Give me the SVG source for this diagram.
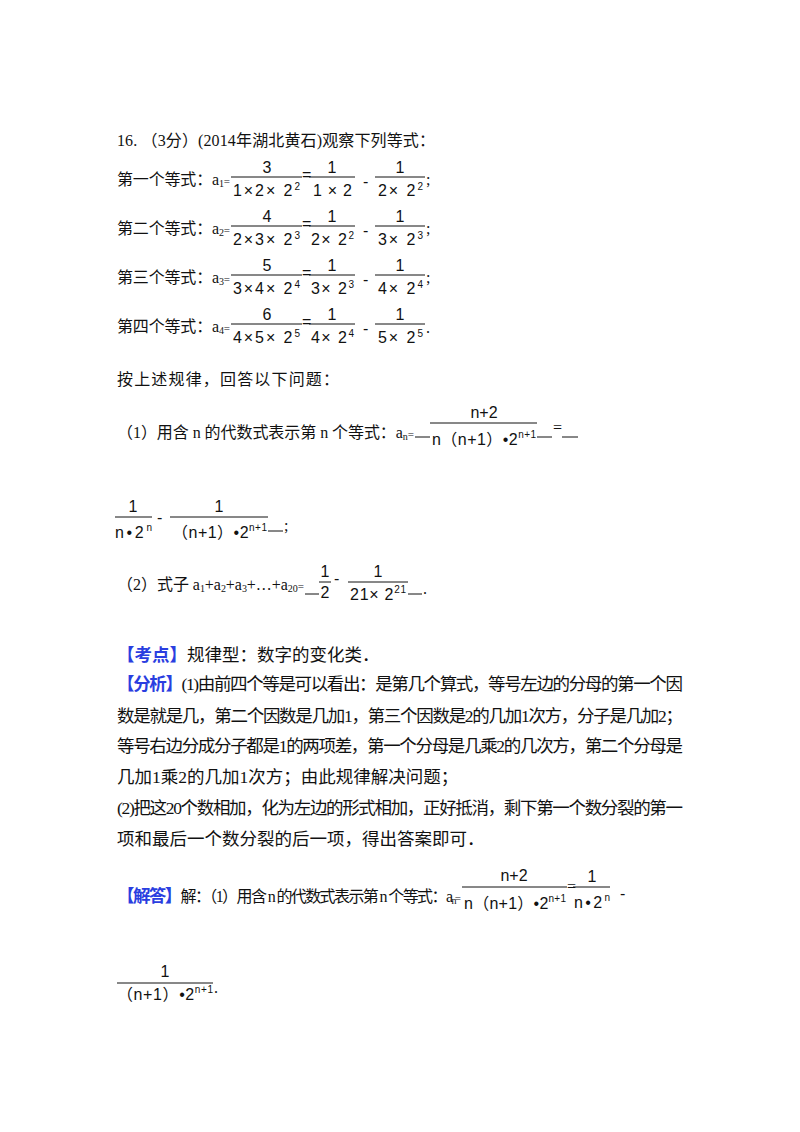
<svg xmlns="http://www.w3.org/2000/svg" width="800" height="1132" viewBox="0 0 800 1132">
<style>
text{font-family:"Liberation Serif","Noto Sans CJK SC",serif;font-size:16px;fill:#111}
.m{font-family:"Liberation Sans","Noto Sans CJK SC",sans-serif;font-size:16px}
.c{text-anchor:middle}
.b{fill:#2a3ee0;font-weight:bold}
.p{font-size:17.5px}
line{stroke:#111;stroke-width:1}
.s{font-size:10px}
</style>
<rect width="800" height="1132" fill="#fff"/>
<text x="117" y="146" textLength="318">16.  （3分）(2014年湖北黄石)观察下列等式：</text>
<g id="row1">
<text x="117" y="185" textLength="113">第一个等式：a<tspan class="s" dy="2">1</tspan><tspan dy="-2" font-size="11">=</tspan></text>
<line x1="231" y1="177" x2="302" y2="177"/><text class="m c" x="267" y="173">3</text><text class="m" x="233" y="196" textLength="67">1×2× 2<tspan class="s" dy="-6">2</tspan></text>
<text class="m" x="302" y="180" font-size="11">=</text>
<line x1="309" y1="177" x2="355" y2="177"/><text class="m c" x="332" y="173">1</text><text class="m" x="313" y="196" textLength="39">1×2</text>
<text class="m" x="363" y="187">-</text>
<line x1="375" y1="177" x2="425" y2="177"/><text class="m c" x="400" y="173">1</text><text class="m" x="378" y="196" textLength="45">2× 2<tspan class="s" dy="-6">2</tspan></text>
<text x="426" y="185" font-size="11">;</text>
</g>
<g id="row2">
<text x="117" y="234" textLength="113">第二个等式：a<tspan class="s" dy="2">2</tspan><tspan dy="-2" font-size="11">=</tspan></text>
<line x1="231" y1="226" x2="302" y2="226"/><text class="m c" x="267" y="222">4</text><text class="m" x="233" y="245" textLength="67">2×3× 2<tspan class="s" dy="-6">3</tspan></text>
<text class="m" x="302" y="229" font-size="11">=</text>
<line x1="309" y1="226" x2="355" y2="226"/><text class="m c" x="332" y="222">1</text><text class="m" x="311" y="245" textLength="43">2× 2<tspan class="s" dy="-6">2</tspan></text>
<text class="m" x="363" y="236">-</text>
<line x1="375" y1="226" x2="425" y2="226"/><text class="m c" x="400" y="222">1</text><text class="m" x="378" y="245" textLength="45">3× 2<tspan class="s" dy="-6">3</tspan></text>
<text x="426" y="234" font-size="11">;</text>
</g>
<g id="row3">
<text x="117" y="283" textLength="113">第三个等式：a<tspan class="s" dy="2">3</tspan><tspan dy="-2" font-size="11">=</tspan></text>
<line x1="231" y1="275" x2="302" y2="275"/><text class="m c" x="267" y="271">5</text><text class="m" x="233" y="294" textLength="67">3×4× 2<tspan class="s" dy="-6">4</tspan></text>
<text class="m" x="302" y="278" font-size="11">=</text>
<line x1="309" y1="275" x2="355" y2="275"/><text class="m c" x="332" y="271">1</text><text class="m" x="311" y="294" textLength="43">3× 2<tspan class="s" dy="-6">3</tspan></text>
<text class="m" x="363" y="285">-</text>
<line x1="375" y1="275" x2="425" y2="275"/><text class="m c" x="400" y="271">1</text><text class="m" x="378" y="294" textLength="45">4× 2<tspan class="s" dy="-6">4</tspan></text>
<text x="426" y="283" font-size="11">;</text>
</g>
<g id="row4">
<text x="117" y="332" textLength="113">第四个等式：a<tspan class="s" dy="2">4</tspan><tspan dy="-2" font-size="11">=</tspan></text>
<line x1="231" y1="324" x2="302" y2="324"/><text class="m c" x="267" y="320">6</text><text class="m" x="233" y="343" textLength="67">4×5× 2<tspan class="s" dy="-6">5</tspan></text>
<text class="m" x="302" y="327" font-size="11">=</text>
<line x1="309" y1="324" x2="355" y2="324"/><text class="m c" x="332" y="320">1</text><text class="m" x="311" y="343" textLength="43">4× 2<tspan class="s" dy="-6">4</tspan></text>
<text class="m" x="363" y="334">-</text>
<line x1="375" y1="324" x2="425" y2="324"/><text class="m c" x="400" y="320">1</text><text class="m" x="378" y="343" textLength="45">5× 2<tspan class="s" dy="-6">5</tspan></text>
<text x="426" y="333" font-size="11">.</text>
</g>
<text x="117" y="385" textLength="222">按上述规律，回答以下问题：</text>
<g id="q1">
<text x="117" y="438" textLength="297">（1）用含 n 的代数式表示第 n 个等式：a<tspan class="s" dy="2">n</tspan><tspan dy="-2" font-size="11">=</tspan></text>
<line x1="415" y1="437" x2="430" y2="437"/>
<line x1="430" y1="423" x2="537" y2="423"/><text class="m c" x="484" y="418">n+2</text>
<text class="m" x="432" y="445" textLength="104">n（n+1）•2<tspan class="s" dy="-7">n+1</tspan></text>
<line x1="537" y1="437" x2="552" y2="437"/><text x="553" y="433" font-size="11">=</text><line x1="562" y1="437" x2="578" y2="437"/>
<line x1="115" y1="517" x2="152" y2="517"/><text class="m c" x="133" y="512">1</text><text class="m" x="115" y="538" textLength="37">n•2<tspan class="s" dy="-7">n</tspan></text>
<text class="m" x="157" y="523">-</text>
<line x1="170" y1="517" x2="268" y2="517"/><text class="m c" x="219" y="512">1</text><text class="m" x="172" y="538" textLength="95">（n+1）•2<tspan class="s" dy="-7">n+1</tspan></text>
<line x1="268" y1="531" x2="283" y2="531"/><text x="284" y="531" font-size="11">;</text>
</g>
<g id="q2">
<text x="117" y="590" textLength="187">（2）式子 a<tspan class="s" dy="2">1</tspan><tspan dy="-2">+a</tspan><tspan class="s" dy="2">2</tspan><tspan dy="-2">+a</tspan><tspan class="s" dy="2">3</tspan><tspan dy="-2">+…+a</tspan><tspan class="s" dy="2">20</tspan><tspan dy="-2" font-size="11">=</tspan></text>
<line x1="305" y1="594" x2="319" y2="594"/>
<text class="m c" x="325" y="577">1</text><line x1="319" y1="582" x2="331" y2="582"/><text class="m c" x="325" y="598">2</text>
<text class="m" x="334" y="584">-</text>
<line x1="348" y1="582" x2="408" y2="582"/><text class="m c" x="378" y="577">1</text><text class="m" x="350" y="600" textLength="56">21× 2<tspan class="s" dy="-7">21</tspan></text>
<line x1="408" y1="594" x2="422" y2="594"/><text x="423" y="594" font-size="11">.</text>
</g>
<g id="kaodian">
<text class="p" x="117" y="661"><tspan class="b">【考点】</tspan>规律型：数字的变化类．</text>
</g>
<g id="fenxi" class="p">
<text class="p" x="117" y="690" textLength="566"><tspan class="b">【分析】</tspan>(1)由前四个等是可以看出：是第几个算式，等号左边的分母的第一个因</text>
<text class="p" x="117" y="722" textLength="566">数是就是几，第二个因数是几加1，第三个因数是2的几加1次方，分子是几加2；</text>
<text class="p" x="117" y="752" textLength="566">等号右边分成分子都是1的两项差，第一个分母是几乘2的几次方，第二个分母是</text>
<text class="p" x="117" y="783">几加1乘2的几加1次方；由此规律解决问题；</text>
<text class="p" x="117" y="814" textLength="566">(2)把这20个数相加，化为左边的形式相加，正好抵消，剩下第一个数分裂的第一</text>
<text class="p" x="117" y="845">项和最后一个数分裂的后一项，得出答案即可．</text>
</g>
<g id="jieda">
<text x="117" y="902" textLength="344"><tspan class="b p">【解答】</tspan>解：（1）用含 n 的代数式表示第 n 个等式：a<tspan class="s" dy="2">n</tspan><tspan dy="-2" font-size="11">=</tspan></text>
<line x1="462" y1="887" x2="567" y2="887"/><text class="m c" x="514" y="881">n+2</text>
<text class="m" x="464" y="909" textLength="102">n（n+1）•2<tspan class="s" dy="-7">n+1</tspan></text>
<text x="567" y="892" font-size="11">=</text>
<line x1="573" y1="887" x2="610" y2="887"/><text class="m c" x="592" y="882">1</text><text class="m" x="574" y="908" textLength="36">n•2<tspan class="s" dy="-7">n</tspan></text>
<text class="m" x="620" y="899">-</text>
<line x1="117" y1="983" x2="213" y2="983"/><text class="m c" x="165" y="977">1</text>
<text class="m" x="117" y="1000" textLength="96">（n+1）•2<tspan class="s" dy="-7">n+1</tspan></text><text x="214" y="993" font-size="11">.</text>
</g>
</svg>
